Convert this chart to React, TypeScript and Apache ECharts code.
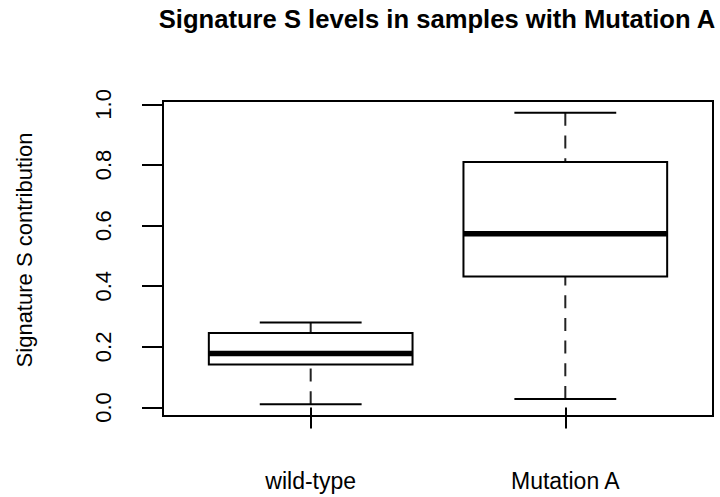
import React, { useEffect, useRef } from "react";
import * as echarts from "echarts";

const categories = ["wild-type", "Mutation A"];
const categoryPositions = [1, 2];
const lowWhisker = [0.011, 0.028];
const lowerQuartile = [0.142, 0.432];
const medians = [0.178, 0.573];
const upperQuartile = [0.246, 0.81];
const highWhisker = [0.2805, 0.972];
const yTicks = [0, 0.2, 0.4, 0.6, 0.8, 1.0];

const FONT = "'Liberation Sans', Arial, Helvetica, sans-serif";

export default function App() {
  const ref = useRef<HTMLDivElement>(null);

  useEffect(() => {
    if (!ref.current) return;
    const chart = echarts.init(ref.current, null, { renderer: "svg" });

    const data = categoryPositions.map((x, i) => [
      x,
      lowWhisker[i],
      lowerQuartile[i],
      medians[i],
      upperQuartile[i],
      highWhisker[i],
    ]);

    const renderItem = (params: any, api: any) => {
      const x = api.value(0);
      const [cx, yLow] = api.coord([x, api.value(1)]);
      const yQ1 = api.coord([x, api.value(2)])[1];
      const yMed = api.coord([x, api.value(3)])[1];
      const yQ3 = api.coord([x, api.value(4)])[1];
      const yHigh = api.coord([x, api.value(5)])[1];
      const bw = api.size([0.8, 0])[0];
      const cw = api.size([0.4, 0])[0];
      const stroke = "#000";
      return {
        type: "group",
        children: [
          {
            type: "line",
            shape: { x1: cx, y1: yLow, x2: cx, y2: yQ1 },
            style: { stroke: "#222", lineWidth: 2, lineDash: [13, 9.7] },
          },
          {
            type: "line",
            shape: { x1: cx, y1: yHigh, x2: cx, y2: yQ3 },
            style: { stroke: "#222", lineWidth: 2, lineDash: [13, 9.7] },
          },
          {
            type: "line",
            shape: { x1: cx - cw / 2, y1: yLow, x2: cx + cw / 2, y2: yLow },
            style: { stroke, lineWidth: 2 },
          },
          {
            type: "line",
            shape: { x1: cx - cw / 2, y1: yHigh, x2: cx + cw / 2, y2: yHigh },
            style: { stroke, lineWidth: 2 },
          },
          {
            type: "rect",
            shape: { x: cx - bw / 2, y: yQ3, width: bw, height: yQ1 - yQ3 },
            style: { fill: "#fff", stroke, lineWidth: 2 },
          },
          {
            type: "line",
            shape: { x1: cx - bw / 2, y1: yMed, x2: cx + bw / 2, y2: yMed },
            style: { stroke, lineWidth: 5.5 },
          },
        ],
      };
    };

    chart.setOption({
      animation: false,
      grid: {
        left: 163,
        top: 101,
        right: 7,
        bottom: 81,
        show: true,
        borderColor: "#000",
        borderWidth: 2,
        backgroundColor: "transparent",
      },
      xAxis: {
        type: "value",
        min: 0.42,
        max: 2.58,
        axisLine: { show: false },
        splitLine: { show: false },
        axisTick: {
          show: true,
          customValues: categoryPositions,
          length: 21,
          lineStyle: { color: "#000", width: 2 },
        },
        axisLabel: {
          customValues: categoryPositions,
          formatter: (v: number) => categories[Math.round(v) - 1] ?? "",
          margin: 53,
          fontSize: 23,
          color: "#000",
          fontFamily: FONT,
        },
      },
      yAxis: {
        type: "value",
        min: -0.028,
        max: 1.011,
        axisLine: { show: false },
        splitLine: { show: false },
        axisTick: {
          show: true,
          customValues: yTicks,
          length: 21,
          lineStyle: { color: "#000", width: 2 },
        },
        axisLabel: {
          customValues: yTicks,
          formatter: (v: number) => v.toFixed(1),
          rotate: 90,
          margin: 49,
          fontSize: 22,
          color: "#000",
          fontFamily: FONT,
        },
      },
      graphic: [
        {
          type: "text",
          x: 437,
          y: 18.5,
          style: {
            text: "Signature S levels in samples with Mutation A",
            font: `bold 25.6px ${FONT}`,
            fill: "#000",
            textAlign: "center",
            textVerticalAlign: "middle",
          },
        },
        {
          type: "text",
          x: 24,
          y: 250,
          rotation: Math.PI / 2,
          style: {
            text: "Signature S contribution",
            font: `22px ${FONT}`,
            fill: "#000",
            textAlign: "center",
            textVerticalAlign: "middle",
          },
        },
      ],
      series: [
        {
          type: "custom",
          renderItem,
          encode: { x: 0, y: [1, 2, 3, 4, 5] },
          data,
        },
      ],
    });

    return () => chart.dispose();
  }, []);

  return (
    <div
      ref={ref}
      style={{ position: "fixed", left: 0, top: 0, width: 720, height: 497, background: "#fff" }}
    />
  );
}
